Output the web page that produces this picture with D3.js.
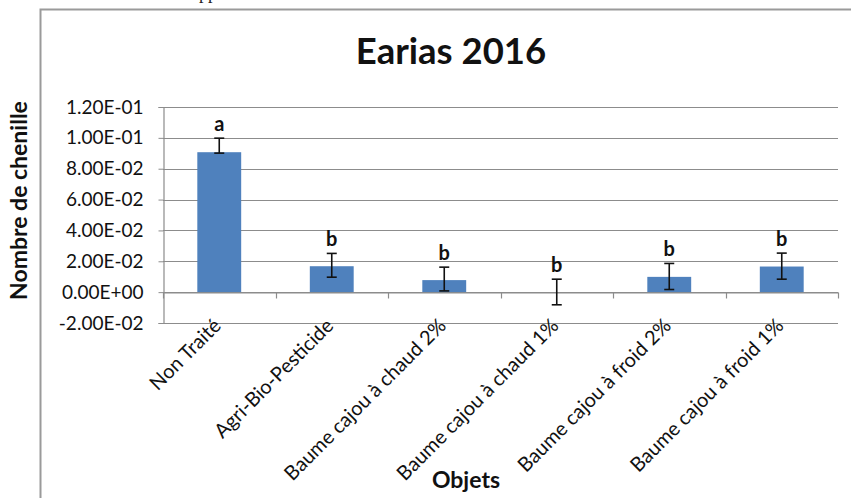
<!DOCTYPE html>
<html>
<head>
<meta charset="utf-8">
<script src="https://cdn.jsdelivr.net/npm/d3@7"></script>
<style>
  html, body { margin: 0; padding: 0; background: #fff; }
  svg { display: block; }
</style>
</head>
<body>
<svg id="chart" width="851" height="498"></svg>
<script>
// ---- data ----
const categories = ["Non Traité", "Agri-Bio-Pesticide", "Baume cajou à chaud 2%", "Baume cajou à chaud 1%", "Baume cajou à froid 2%", "Baume cajou à froid 1%"];
const values   = [0.0907, 0.0168, 0.0078, 0.0000, 0.0099, 0.0166];
const errPlus  = [0.0091, 0.0083, 0.0084, 0.0084, 0.0087, 0.0087];
const errMinus = [0.0006, 0.0071, 0.0070, 0.0082, 0.0082, 0.0082];
const letters  = ["a", "b", "b", "b", "b", "b"];
const yTicks   = [-0.02, 0, 0.02, 0.04, 0.06, 0.08, 0.10, 0.12];
const chartTitle = "Earias 2016";
const yTitle = "Nombre de chenille";
const xTitle = "Objets";

(function () {
// ---- layout ----
const svg = d3.select("#chart");
const pLeft = 163, pRight = 838, pTop = 107, pBottom = 323;
const font = "Lato, 'Open Sans', sans-serif";

// outer frame (extends beyond the window)
svg.append("rect").attr("x", 40.5).attr("y", 9.5).attr("width", 900).attr("height", 600)
  .attr("fill", "none").attr("stroke", "#9a9a9a").attr("stroke-width", 2);

// fragment of the text above (cut by the top edge, as in the reference)
svg.append("text").attr("x", 199).attr("y", -1).attr("font-family", "'Liberation Serif', serif")
  .attr("font-size", 18).attr("fill", "#222").text("pp");

const x = d3.scaleBand().domain(categories).range([pLeft, pRight]).padding(0);
const y = d3.scaleLinear().domain([-0.02, 0.12]).range([pBottom, pTop]);
const barW = x.bandwidth() * 0.39;

// gridlines
svg.append("g").selectAll("line").data(yTicks).join("line")
  .attr("x1", pLeft).attr("x2", pRight)
  .attr("y1", d => Math.round(y(d)) + 0.5).attr("y2", d => Math.round(y(d)) + 0.5)
  .attr("stroke", "#8c8c8c").attr("stroke-width", 1.2);

// y axis
const yAxis = d3.axisLeft(y).tickValues(yTicks).tickSize(5).tickPadding(15)
  .tickFormat(d => {
    const s = d.toExponential(2).toUpperCase();
    const m = s.match(/^(-?[\d.]+)E([+-])(\d+)$/);
    return m[1] + "E" + m[2] + m[3].padStart(2, "0");
  });
const gy = svg.append("g").attr("transform", `translate(${pLeft + 0.5},0)`).call(yAxis);
gy.select(".domain").attr("stroke", "#8c8c8c").attr("stroke-width", 1.2);
gy.selectAll(".tick line").attr("stroke", "#8c8c8c");
gy.selectAll(".tick text").attr("font-family", font).attr("font-size", 19).attr("fill", "#111");

// bars
svg.append("g").selectAll("rect").data(categories).join("rect")
  .attr("x", (d) => x(d) + x.bandwidth() / 2 - barW / 2)
  .attr("y", (d, i) => Math.min(y(values[i]), y(0)))
  .attr("width", barW)
  .attr("height", (d, i) => Math.abs(y(0) - y(values[i])))
  .attr("fill", "#4f81bd");

// category axis at zero
const xAxis = d3.axisBottom(x).tickSize(0).tickFormat("");
const gx = svg.append("g").attr("transform", `translate(0,${Math.round(y(0)) + 0.5})`).call(xAxis);
gx.select(".domain").attr("stroke", "#8c8c8c").attr("stroke-width", 1.2);
const boundaries = categories.map(c => x(c)).concat([pRight]);
gx.selectAll(".bt").data(boundaries).join("line").attr("class", "bt")
  .attr("x1", d => Math.round(d) + 0.5).attr("x2", d => Math.round(d) + 0.5)
  .attr("y1", 0).attr("y2", 6).attr("stroke", "#8c8c8c").attr("stroke-width", 1.2);

// error bars
const eg = svg.append("g").attr("stroke", "#111").attr("stroke-width", 1.6);
categories.forEach((c, i) => {
  const cx = x(c) + x.bandwidth() / 2;
  const y1 = y(values[i] + errPlus[i]), y2 = y(values[i] - errMinus[i]);
  eg.append("line").attr("x1", cx).attr("x2", cx).attr("y1", y1).attr("y2", y2);
  eg.append("line").attr("x1", cx - 5).attr("x2", cx + 5).attr("y1", y1).attr("y2", y1);
  eg.append("line").attr("x1", cx - 5).attr("x2", cx + 5).attr("y1", y2).attr("y2", y2);
});

// letters
svg.append("g").selectAll("text").data(categories).join("text")
  .attr("x", d => x(d) + x.bandwidth() / 2)
  .attr("y", (d, i) => y(values[i] + errPlus[i]) - 7)
  .attr("text-anchor", "middle").attr("font-family", font).attr("font-weight", "bold")
  .attr("font-size", 20).attr("fill", "#111")
  .text((d, i) => letters[i]);

// category labels (rotated)
svg.append("g").selectAll("text").data(categories).join("text")
  .attr("transform", d => `translate(${x(d) + x.bandwidth() / 2 + 3},${pBottom + 4}) rotate(-45)`)
  .attr("text-anchor", "end")
  .attr("font-family", font).attr("font-size", 20).attr("fill", "#111")
  .text(d => d);

// titles
svg.append("text").attr("x", 451).attr("y", 64).attr("text-anchor", "middle")
  .attr("font-family", font).attr("font-weight", "bold").attr("font-size", 36.5).attr("fill", "#111")
  .text(chartTitle);

svg.append("text").attr("transform", "translate(27,200.5) rotate(-90)").attr("text-anchor", "middle")
  .attr("font-family", font).attr("font-weight", "bold").attr("font-size", 23).attr("fill", "#111")
  .text(yTitle);

svg.append("text").attr("x", 466).attr("y", 488).attr("text-anchor", "middle")
  .attr("font-family", font).attr("font-weight", "bold").attr("font-size", 23).attr("fill", "#111")
  .text(xTitle);
})();
</script>
</body>
</html>
